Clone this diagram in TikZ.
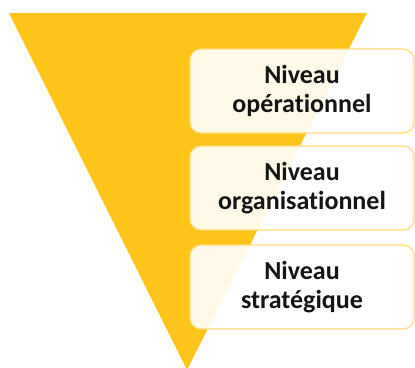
\documentclass[tikz,border=0pt]{standalone}
\usepackage{fontspec}
\setmainfont[RawFeature=-liga]{Carlito}
\definecolor{funnelgold}{RGB}{255,196,25}
\definecolor{boxline}{RGB}{255,220,120}
\definecolor{labeltext}{RGB}{20,20,20}
\begin{document}
\begin{tikzpicture}[x=1pt,y=-1pt,
  levelbox/.style={draw=boxline, line width=1.2pt, fill=white, fill opacity=0.9,
    text opacity=1, rounded corners=11pt, minimum width=224pt, minimum height=84pt,
    align=center, text=labeltext,
    font=\fontsize{26}{29}\selectfont\bfseries}]
  \useasboundingbox (0,0) rectangle (415,367);
  % inverted triangle
  \fill[funnelgold] (9,13) -- (367,13) -- (187,370) -- cycle;
  % level boxes
  \node[levelbox] (op)  at (302,91)  {Niveau\\op\'erationnel};
  \node[levelbox] (org) at (302,188) {Niveau\\organisationnel};
  \node[levelbox] (str) at (302,287) {Niveau\\strat\'egique};
\end{tikzpicture}
\end{document}
